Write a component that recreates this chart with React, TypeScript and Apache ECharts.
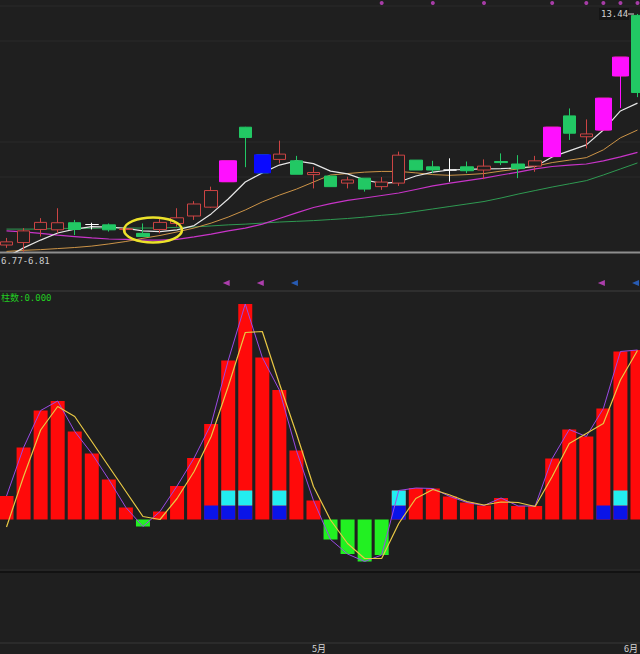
import React, { useEffect, useRef } from "react";
import * as echarts from "echarts";

const categories = [
  "1", "2", "3", "4", "5", "6", "7", "8", "9", "10",
  "11", "12", "13", "14", "15", "16", "17", "18", "19", "20",
  "21", "22", "23", "24", "25", "26", "27", "28", "29", "30",
  "31", "32", "33", "34", "35", "36", "37", "38",
];

// [open, close, low, high]
const candles = [
  [6.91, 7.0, 6.83, 7.11],
  [6.98, 7.31, 6.72, 7.39],
  [7.35, 7.55, 7.15, 7.67],
  [7.34, 7.54, 7.25, 7.95],
  [7.54, 7.35, 7.19, 7.62],
  [7.49, 7.49, 7.35, 7.54],
  [7.48, 7.34, 7.29, 7.52],
  [7.35, 7.37, 7.28, 7.45],
  [7.24, 7.15, 7.14, 7.52],
  [7.35, 7.55, 7.24, 7.67],
  [7.52, 7.68, 7.43, 7.95],
  [7.73, 8.07, 7.62, 8.15],
  [7.98, 8.45, 7.96, 8.56],
  [8.7, 9.29, 8.7, 9.29],
  [10.24, 9.95, 9.11, 10.25],
  [9.46, 8.95, 8.95, 9.46],
  [9.33, 9.48, 9.22, 9.86],
  [9.29, 8.91, 8.91, 9.43],
  [8.9, 8.96, 8.51, 9.12],
  [8.86, 8.56, 8.56, 8.86],
  [8.66, 8.75, 8.51, 8.84],
  [8.8, 8.49, 8.42, 8.8],
  [8.56, 8.69, 8.47, 8.83],
  [8.66, 9.45, 8.58, 9.55],
  [9.31, 9.03, 9.03, 9.31],
  [9.12, 9.03, 8.94, 9.29],
  [9.03, 9.03, 8.7, 9.36],
  [9.12, 9.01, 8.94, 9.27],
  [9.03, 9.14, 8.77, 9.33],
  [9.27, 9.24, 9.17, 9.5],
  [9.2, 9.07, 8.8, 9.45],
  [9.14, 9.29, 8.98, 9.43],
  [9.41, 10.24, 9.41, 10.24],
  [10.56, 10.07, 9.88, 10.77],
  [9.97, 10.05, 9.64, 10.46],
  [10.16, 11.06, 10.16, 11.06],
  [11.69, 12.22, 10.78, 12.22],
  [13.4, 11.22, 11.09, 13.44],
];

const dojiIdx = [5, 26];
const magentaIdx = [13, 32, 35, 36];
const blueCandleIdx = [15];

const ma5 = [6.57, 6.83, 7.05, 7.25, 7.36, 7.43, 7.42, 7.38, 7.31, 7.29, 7.34, 7.46, 7.79, 8.21, 8.69, 8.95, 9.17, 9.29, 9.21, 9.0, 8.92, 8.75, 8.65, 8.69, 8.86, 8.97, 9.03, 9.05, 9.06, 9.07, 9.09, 9.13, 9.4, 9.57, 9.74, 10.16, 10.7, 10.92];
const ma10 = [6.73, 6.76, 6.78, 6.81, 6.84, 6.88, 6.94, 7.01, 7.1, 7.18, 7.28, 7.39, 7.53, 7.7, 7.9, 8.13, 8.32, 8.49, 8.69, 8.89, 8.93, 8.97, 8.99, 8.99, 8.95, 8.9, 8.88, 8.9, 8.93, 9.0, 9.06, 9.14, 9.24, 9.31, 9.38, 9.6, 9.94, 10.16];
const ma20 = [7.31, 7.28, 7.24, 7.19, 7.15, 7.11, 7.08, 7.07, 7.05, 7.05, 7.07, 7.14, 7.22, 7.31, 7.39, 7.5, 7.66, 7.82, 7.97, 8.08, 8.17, 8.24, 8.31, 8.38, 8.48, 8.58, 8.66, 8.73, 8.8, 8.89, 8.97, 9.06, 9.13, 9.17, 9.2, 9.29, 9.4, 9.53];
const ma60 = [7.36, 7.36, 7.36, 7.38, 7.38, 7.38, 7.39, 7.39, 7.39, 7.39, 7.41, 7.42, 7.45, 7.48, 7.5, 7.53, 7.56, 7.58, 7.6, 7.63, 7.66, 7.7, 7.75, 7.79, 7.86, 7.93, 8.0, 8.07, 8.14, 8.24, 8.35, 8.45, 8.55, 8.64, 8.73, 8.89, 9.06, 9.23];

const topDotIdx = [22, 25, 28, 32, 34, 35, 36, 37];
const topDotLevel = 13.75;

const flagIdx = [13, 15, 17, 35, 37];
const flagKinds = ["m", "m", "b", "m", "b"];

const histogram = [0.235, 0.72, 1.09, 1.185, 0.88, 0.66, 0.4, 0.12, -0.07, 0.08, 0.335, 0.615, 0.955, 1.59, 2.155, 1.62, 1.295, 0.69, 0.19, -0.2, -0.345, -0.42, -0.355, 0.29, 0.315, 0.31, 0.23, 0.17, 0.14, 0.215, 0.135, 0.135, 0.61, 0.9, 0.83, 1.11, 1.68, 1.695];
const signalLine = [-0.075, 0.43, 0.895, 1.13, 1.03, 0.78, 0.53, 0.28, 0.03, 0.0, 0.21, 0.48, 0.83, 1.33, 1.87, 1.88, 1.36, 0.86, 0.33, -0.005, -0.24, -0.39, -0.39, -0.04, 0.21, 0.3, 0.245, 0.18, 0.145, 0.175, 0.17, 0.13, 0.43, 0.76, 0.86, 0.96, 1.395, 1.69];
const blueIdx = [12, 13, 14, 16, 23, 35, 36];
const cyanIdx = [13, 14, 16, 23, 36];
const blueHeight = 0.14;
const cyanHeight = 0.15;

const BG = "#1f1f1f";
const K_UP = "#cc4444";
const K_DOWN = "#22c864";

export default function App() {
  const ref = useRef<HTMLDivElement>(null);
  useEffect(() => {
    if (!ref.current) return;
    const chart = echarts.init(ref.current, null, { renderer: "svg" });

    const mainCandles = candles.map((c, i) =>
      dojiIdx.includes(i)
        ? {
            value: c,
            itemStyle: {
              color: "#ffffff",
              color0: "#ffffff",
              borderColor: "#ffffff",
              borderColor0: "#ffffff",
              borderColorDoji: "#ffffff",
            },
          }
        : c
    );
    const specialCandles = candles.map((c, i) => {
      const col = magentaIdx.includes(i) ? "#ff10ff" : blueCandleIdx.includes(i) ? "#0a0aff" : null;
      if (!col) return "-";
      return {
        value: c,
        itemStyle: { color: col, color0: col, borderColor: col, borderColor0: col },
      };
    });

    const grids = [
      { left: -2, width: 648, top: 0, height: 252, outerBoundsMode: "none", containLabel: false },
      { left: -2, width: 648, top: 276, height: 14, outerBoundsMode: "none", containLabel: false },
      { left: -2, width: 648, top: 291, height: 280, outerBoundsMode: "none", containLabel: false },
    ];

    const maLine = (data: number[], color: string, w: number) => ({
      type: "line",
      xAxisIndex: 0,
      yAxisIndex: 0,
      data,
      symbol: "none",
      smooth: false,
      lineStyle: { color, width: w },
      z: 3,
    });

    const hLine = (y: number, color: string, w = 1) => ({
      type: "line",
      shape: { x1: 0, y1: y, x2: 640, y2: y },
      style: { stroke: color, lineWidth: w },
      silent: true,
      z: 0,
    });

    const option: any = {
      animation: false,
      backgroundColor: BG,
      grid: grids,
      xAxis: grids.map((_, g) => ({
        type: "category",
        gridIndex: g,
        data: categories,
        show: false,
        boundaryGap: true,
      })),
      yAxis: [
        { gridIndex: 0, min: 6.713, max: 13.835, show: false },
        { gridIndex: 1, min: 0, max: 1, show: false },
        { gridIndex: 2, min: -0.515, max: 2.285, show: false },
      ],
      series: [
        {
          type: "candlestick",
          xAxisIndex: 0,
          yAxisIndex: 0,
          barWidth: 13,
          data: mainCandles,
          itemStyle: {
            color: BG,
            color0: K_DOWN,
            borderColor: K_UP,
            borderColor0: K_DOWN,
            borderWidth: 1,
          },
          z: 4,
        },
        {
          type: "candlestick",
          xAxisIndex: 0,
          yAxisIndex: 0,
          barWidth: 17,
          data: specialCandles,
          itemStyle: { borderWidth: 1 },
          z: 5,
        },
        maLine(ma60, "#2f9a52", 1),
        maLine(ma20, "#c834c8", 1.2),
        maLine(ma10, "#cc9448", 1),
        maLine(ma5, "#e6e6e6", 1.2),
        {
          type: "scatter",
          xAxisIndex: 0,
          yAxisIndex: 0,
          symbolSize: 4,
          data: categories.map((_, i) => (topDotIdx.includes(i) ? topDotLevel : "-")),
          itemStyle: { color: "#c844c8" },
          z: 6,
        },
        {
          type: "scatter",
          xAxisIndex: 1,
          yAxisIndex: 1,
          symbol: "triangle",
          symbolSize: [6, 7],
          symbolRotate: 90,
          symbolOffset: [-2, 0],
          data: categories.map((_, i) => {
            const k = flagIdx.indexOf(i);
            if (k < 0) return "-";
            return {
              value: 0.5,
              itemStyle: { color: flagKinds[k] === "m" ? "#d046d0" : "#2a6ad8" },
            };
          }),
        },
        {
          type: "bar",
          xAxisIndex: 2,
          yAxisIndex: 2,
          barWidth: 14,
          barGap: "-100%",
          data: histogram.map((v) => ({
            value: v,
            itemStyle: { color: v >= 0 ? "#ff0a0a" : "#22f022" },
          })),
        },
        {
          type: "bar",
          xAxisIndex: 2,
          yAxisIndex: 2,
          barWidth: 14,
          barGap: "-100%",
          stack: "sig",
          data: categories.map((_, i) => (blueIdx.includes(i) ? blueHeight : "-")),
          itemStyle: { color: "#0a14e8" },
        },
        {
          type: "bar",
          xAxisIndex: 2,
          yAxisIndex: 2,
          barWidth: 14,
          barGap: "-100%",
          stack: "sig",
          data: categories.map((_, i) => (cyanIdx.includes(i) ? cyanHeight : "-")),
          itemStyle: { color: "#22eef0" },
        },
        {
          type: "line",
          xAxisIndex: 2,
          yAxisIndex: 2,
          data: histogram,
          symbol: "none",
          lineStyle: { color: "#9a4ae6", width: 1 },
          z: 5,
        },
        {
          type: "line",
          xAxisIndex: 2,
          yAxisIndex: 2,
          data: signalLine,
          symbol: "none",
          lineStyle: { color: "#e8c844", width: 1.2 },
          z: 6,
        },
      ],
      graphic: [
        hLine(6, "#2b2b2b"),
        hLine(41, "#2a2a2a"),
        hLine(142, "#2a2a2a"),
        hLine(177, "#2a2a2a"),
        hLine(252.5, "#8e8e8e", 2),
        hLine(291, "#343434", 1.5),
        hLine(570, "#2c2c2c", 1),
        hLine(572, "#121212", 2),
        hLine(643, "#383838", 1),
        {
          type: "ellipse",
          shape: { cx: 153, cy: 230, rx: 29, ry: 12.5 },
          style: { fill: "none", stroke: "#ece22a", lineWidth: 2.5 },
          z: 100,
        },
        {
          type: "text",
          x: 1,
          y: 256,
          style: {
            text: "6.77-6.81",
            fill: "#cccccc",
            font: '9px "DejaVu Sans Mono"',
            verticalAlign: "top",
          },
          z: 100,
        },
        {
          type: "text",
          x: 1,
          y: 293,
          style: {
            text: "柱数:0.000",
            fill: "#22cc22",
            font: '9px "DejaVu Sans Mono", "Noto Sans CJK SC"',
            verticalAlign: "top",
          },
          z: 100,
        },
        {
          type: "rect",
          shape: { x: 599, y: 8, width: 30, height: 12 },
          style: { fill: "#151515" },
          z: 99,
        },
        {
          type: "text",
          x: 601,
          y: 9,
          style: {
            text: "13.44",
            fill: "#d2d2d2",
            font: '9px "DejaVu Sans Mono"',
            verticalAlign: "top",
          },
          z: 100,
        },
        {
          type: "line",
          shape: { x1: 628, y1: 14, x2: 634, y2: 14 },
          style: { stroke: "#d2d2d2", lineWidth: 1 },
          z: 100,
        },
        {
          type: "text",
          x: 312,
          y: 644,
          style: {
            text: "5月",
            fill: "#d8d8d8",
            font: '9px "Noto Sans CJK SC"',
            verticalAlign: "top",
          },
          z: 100,
        },
        {
          type: "text",
          x: 624,
          y: 644,
          style: {
            text: "6月",
            fill: "#d8d8d8",
            font: '9px "Noto Sans CJK SC"',
            verticalAlign: "top",
          },
          z: 100,
        },
      ],
    };

    chart.setOption(option);
    return () => chart.dispose();
  }, []);

  return (
    <div
      ref={ref}
      style={{ position: "absolute", left: 0, top: 0, width: 640, height: 654 }}
    />
  );
}
